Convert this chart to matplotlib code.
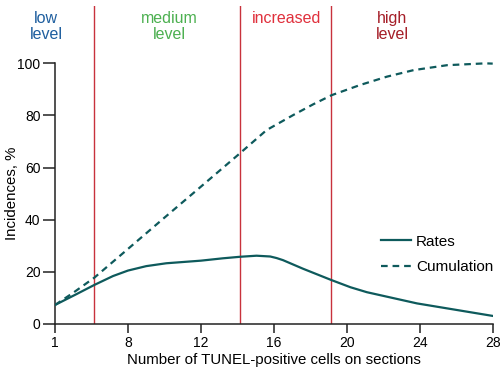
import matplotlib
matplotlib.use("Agg")
import matplotlib.pyplot as plt

plt.rcParams['font.family'] = ['Liberation Sans', 'DejaVu Sans']

# x positions on the drawn scale (the "1" tick sits where 4 would be)
rate_x = [4, 5.16, 6.16, 7.18, 8, 9, 10.1, 12, 13.2, 14.16, 15.05, 15.8, 16.15, 16.5,
          17.6, 19.14, 20.2, 21.1, 23.85, 28]
rate_y = [7.3, 11.4, 15.0, 18.4, 20.5, 22.2, 23.3, 24.3, 25.2, 25.8, 26.2, 25.9, 25.3, 24.5,
          21.2, 16.9, 14.1, 12.2, 7.9, 3.1]

cum_x = [4, 5, 6.16, 8, 10, 12, 14.14, 15.6, 17.07, 18.16, 19.17, 20.73, 22.2, 23.66, 25.5, 27.6, 28]
cum_y = [7.3, 12.0, 17.8, 28.8, 40.8, 52.7, 65.5, 74.4, 80.2, 84.3, 87.8, 91.7, 94.9, 97.4, 99.3, 100, 99.9]

tick_pos = [4, 8, 12, 16, 20, 24, 28]
tick_lbl = ["1", "8", "12", "16", "20", "24", "28"]

# level borders and captions
borders = [6.14, 14.16, 19.16]
level_names = ["low\nlevel", "medium\nlevel", "increased\n", "high\nlevel"]
level_x = [3.5, 10.26, 16.68, 22.5]
level_colors = ["#1f5f9f", "#4cb050", "#e0303c", "#a51e28"]

teal = "#0e5a5c"

fig = plt.figure(figsize=(5.02, 3.76), dpi=100)
ax = fig.add_axes([0.1096, 0.1383, 0.8719, 0.8457])

for b in borders:
    ax.axvline(b, color="#c8323c", lw=1.0, zorder=1)

ax.plot(rate_x, rate_y, color=teal, lw=1.6, label="Rates", zorder=3)
ax.plot(cum_x, cum_y, color=teal, lw=1.6, ls=(0, (3, 2.2)), label="Cumulation", zorder=3)

for name, xx, c in zip(level_names, level_x, level_colors):
    ax.text(xx, 114.2, name, color=c, ha="center", va="center", fontsize=11.5,
            linespacing=1.05, clip_on=False)

ax.set_xlim(4, 28)
ax.set_ylim(0, 122)
ax.set_xticks(tick_pos)
ax.set_xticklabels(tick_lbl)
ax.set_yticks([0, 20, 40, 60, 80, 100])

for s in ["top", "right"]:
    ax.spines[s].set_visible(False)
ax.spines["left"].set_bounds(0, 100)
for s in ["left", "bottom"]:
    ax.spines[s].set_linewidth(1.1)
    ax.spines[s].set_color("#222222")

ax.tick_params(axis="y", length=8.5, width=1.1, labelsize=10, pad=2, color="#222222")
ax.tick_params(axis="x", length=6.5, width=1.1, labelsize=10, pad=2, color="#222222")

ax.set_xlabel("Number of TUNEL-positive cells on sections", fontsize=10.8, labelpad=2)
fig.text(12 / 502, 1 - 193 / 376, "Incidences, %", fontsize=10.8, rotation=90,
         ha="center", va="center")

ax.legend(loc="upper left", bbox_to_anchor=(0.73, 0.30), frameon=False, fontsize=11,
          handlelength=2.0, handletextpad=0.3, labelspacing=0.75, borderaxespad=0)

fig.savefig("out.png", dpi=100)
